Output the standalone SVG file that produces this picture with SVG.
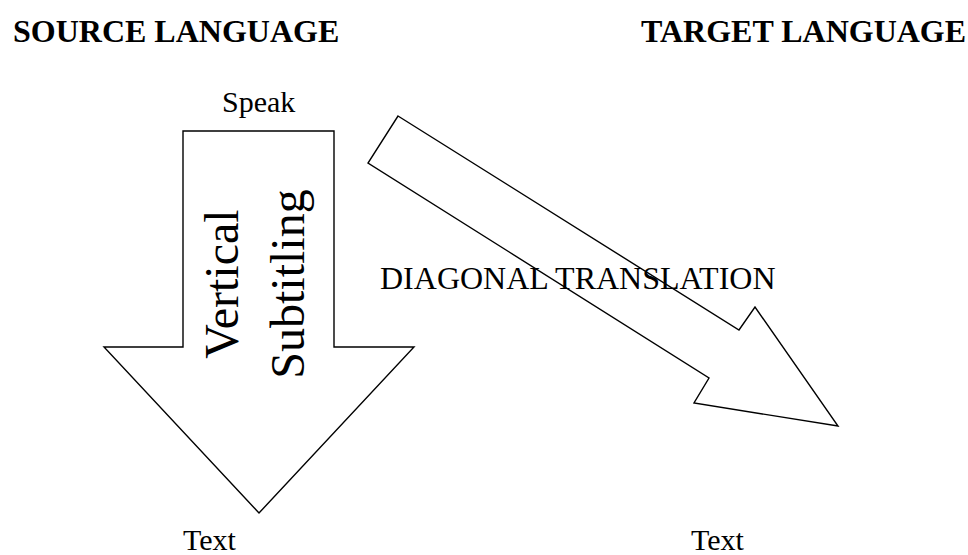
<svg xmlns="http://www.w3.org/2000/svg" width="968" height="555" viewBox="0 0 968 555">
<style>
.shape{fill:#fff;stroke:#000;stroke-width:1.4;stroke-linejoin:miter}
.t{font-family:"Liberation Serif","Times New Roman",serif;font-size:32px;fill:#000}
.s{font-size:30px}
.h{font-weight:bold}
.v{font-size:48px;text-anchor:middle}
</style>
<rect width="968" height="555" fill="#fff"/>
<g id="connectors">
<polygon id="diagonal-arrow" class="shape" points="398,116 739,330 755,307 838,426 694,403 709,378 368,163"/>
</g>
<g id="vertical-arrow">
<polygon class="shape" points="183,131 334,131 334,347 414,347 259,513 104,347 183,347"/>
<text class="t v" transform="translate(238,284) rotate(-90)">Vertical</text>
<text class="t v" transform="translate(304,284) rotate(-90)">Subtitling</text>
</g>
<g id="source-header"><text class="t h" x="13" y="42">SOURCE LANGUAGE</text></g>
<g id="target-header"><text class="t h" x="641" y="42">TARGET LANGUAGE</text></g>
<g id="speak"><text class="t s" x="222" y="112">Speak</text></g>
<g id="diagonal-label"><text class="t" x="380" y="289">DIAGONAL TRANSLATION</text></g>
<g id="text-left"><text class="t s" x="183" y="550">Text</text></g>
<g id="text-right"><text class="t s" x="691" y="550">Text</text></g>
</svg>
